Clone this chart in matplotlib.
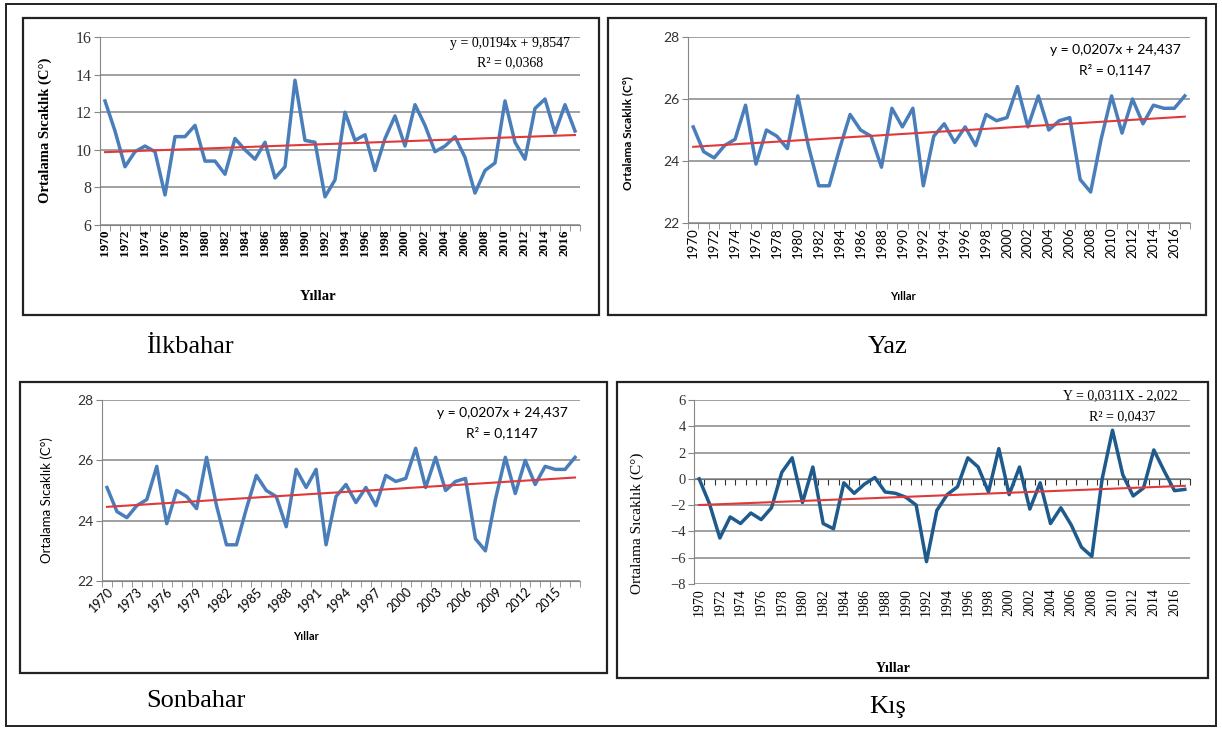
import matplotlib.pyplot as plt
import matplotlib.patches as patches
import numpy as np

# Data (1970-2017)
years = list(range(1970, 2018))
ilkbahar = [12.6, 11.0, 9.1, 9.9, 10.2, 9.9, 7.6, 10.7, 10.7, 11.3,
            9.4, 9.4, 8.7, 10.6, 10.0, 9.5, 10.4, 8.5, 9.1, 13.7,
            10.5, 10.4, 7.5, 8.4, 12.0, 10.5, 10.8, 8.9, 10.6, 11.8,
            10.2, 12.4, 11.3, 9.9, 10.2, 10.7, 9.6, 7.7, 8.9, 9.3,
            12.6, 10.4, 9.5, 12.2, 12.7, 10.9, 12.4, 11.0]
yaz = [25.1, 24.3, 24.1, 24.5, 24.7, 25.8, 23.9, 25.0, 24.8, 24.4,
       26.1, 24.5, 23.2, 23.2, 24.4, 25.5, 25.0, 24.8, 23.8, 25.7,
       25.1, 25.7, 23.2, 24.8, 25.2, 24.6, 25.1, 24.5, 25.5, 25.3,
       25.4, 26.4, 25.1, 26.1, 25.0, 25.3, 25.4, 23.4, 23.0, 24.7,
       26.1, 24.9, 26.0, 25.2, 25.8, 25.7, 25.7, 26.1]
# the source figure shows the same series for autumn
sonbahar = [25.1, 24.3, 24.1, 24.5, 24.7, 25.8, 23.9, 25.0, 24.8, 24.4,
            26.1, 24.5, 23.2, 23.2, 24.4, 25.5, 25.0, 24.8, 23.8, 25.7,
            25.1, 25.7, 23.2, 24.8, 25.2, 24.6, 25.1, 24.5, 25.5, 25.3,
            25.4, 26.4, 25.1, 26.1, 25.0, 25.3, 25.4, 23.4, 23.0, 24.7,
            26.1, 24.9, 26.0, 25.2, 25.8, 25.7, 25.7, 26.1]
kis = [0.0, -1.9, -4.5, -2.9, -3.4, -2.6, -3.1, -2.2, 0.5, 1.6,
       -1.8, 0.9, -3.4, -3.8, -0.3, -1.1, -0.4, 0.1, -1.0, -1.1,
       -1.4, -2.0, -6.3, -2.4, -1.2, -0.6, 1.6, 0.9, -1.0, 2.3,
       -1.2, 0.9, -2.3, -0.3, -3.4, -2.2, -3.5, -5.2, -5.9, 0.0,
       3.7, 0.3, -1.3, -0.7, 2.2, 0.6, -0.9, -0.8]

# trend lines as printed on the charts (x = 1..48)
ilkbahar_fit = (0.0194, 9.8547)
yaz_fit = (0.0207, 24.437)
sonbahar_fit = (0.0207, 24.437)
kis_fit = (0.0311, -2.022)

W, H = 1222, 729
fig = plt.figure(figsize=(W / 100, H / 100), dpi=100)

SERIF = 'Liberation Serif'
SANS = 'Lato'
GRID = '#868686'
BLUE = '#4a7ebb'
DARKBLUE = '#1f5a8c'
RED = '#e0393b'


def px_axes(l, t, r, b):
    return fig.add_axes([l / W, 1 - b / H, (r - l) / W, (b - t) / H])


def px_text(x, y, s, **kw):
    fig.text(x / W, 1 - y / H, s, **kw)


def px_box(l, t, r, b, lw=1.6):
    fig.add_artist(patches.Rectangle((l / W, 1 - b / H), (r - l) / W, (b - t) / H,
                                     transform=fig.transFigure, fill=False,
                                     lw=lw, ec='#222222'))


def panel(ax, values, fit, ylim, ystep, color, every, rot, font, xsize, ysize,
          xweight='normal', bottom_axis=True):
    x = np.arange(len(values))
    ax.plot(x, values, color=color, lw=2.5, zorder=3)
    slope, inter = fit
    ax.plot(x, inter + slope * (x + 1), color=RED, lw=1.5, zorder=4)
    ax.set_xlim(-0.5, len(values) - 0.5)
    ax.set_ylim(*ylim)
    ax.set_yticks(np.arange(ylim[0], ylim[1] + 0.01, ystep))
    ax.grid(axis='y', color=GRID, lw=1.1)
    ax.set_axisbelow(True)
    for s in ['top', 'right']:
        ax.spines[s].set_visible(False)
    ax.spines['left'].set_color(GRID)
    ax.spines['bottom'].set_color(GRID)
    ax.spines['bottom'].set_visible(bottom_axis)
    ax.set_xticks(x[::every], [str(years[i]) for i in x[::every]])
    if bottom_axis:
        ax.set_xticks(np.arange(-0.5, len(values)), minor=True)
    ax.tick_params(axis='x', which='major', length=0, pad=3)
    ax.tick_params(axis='x', which='minor', length=4, color=GRID)
    ax.tick_params(axis='y', length=4, color=GRID, pad=2)
    for lab in ax.get_xticklabels():
        lab.set_fontfamily(font)
        lab.set_fontsize(xsize)
        lab.set_fontweight(xweight)
        lab.set_rotation(rot)
        if rot == 45:
            lab.set_ha('right')
            lab.set_va('top')
            lab.set_rotation_mode('anchor')
        else:
            lab.set_va('top')
            lab.set_ha('center')
    for lab in ax.get_yticklabels():
        lab.set_fontfamily(font)
        lab.set_fontsize(ysize)
        lab.set_color('#333333')
    ax.patch.set_alpha(0)


# outer frame
px_box(6, 4, 1216, 726, lw=1.4)

# İlkbahar
px_box(23, 18, 599, 315)
ax1 = px_axes(100, 37, 580, 225)
panel(ax1, ilkbahar, ilkbahar_fit, (6, 16), 2, BLUE, 2, 90, SERIF, 9.5, 11.5,
      xweight='bold')
px_text(45, 130, 'Ortalama Sıcaklık (C°)', rotation=90, ha='center', va='center',
        family=SERIF, weight='bold', fontsize=10.5)
px_text(318, 297, 'Yıllar', ha='center', va='center', family=SERIF,
        weight='bold', fontsize=10.5)
px_text(510, 43, 'y = 0,0194x + 9,8547', ha='center', va='center', family=SERIF,
        fontsize=10)
px_text(510, 63, 'R² = 0,0368', ha='center', va='center', family=SERIF, fontsize=10)
px_text(190, 347, 'İlkbahar', ha='center', va='center', family=SERIF, fontsize=19)

# Yaz
px_box(608, 18, 1206, 315)
ax2 = px_axes(688, 37, 1190, 223)
panel(ax2, yaz, yaz_fit, (22, 28), 2, BLUE, 2, 90, SANS, 9.5, 10)
px_text(628, 133, 'Ortalama Sıcaklık (C°)', rotation=90, ha='center', va='center',
        family=SANS, weight='bold', fontsize=8.5)
px_text(903, 296, 'Yıllar', ha='center', va='center', family=SANS,
        weight='bold', fontsize=8)
px_text(1115, 50, 'y = 0,0207x + 24,437', ha='center', va='center', family=SANS,
        fontsize=10)
px_text(1115, 70, 'R² = 0,1147', ha='center', va='center', family=SANS, fontsize=10)
px_text(888, 347, 'Yaz', ha='center', va='center', family=SERIF, fontsize=19)

# Sonbahar
px_box(20, 382, 607, 673)
ax3 = px_axes(102, 400, 580, 581)
panel(ax3, sonbahar, sonbahar_fit, (22, 28), 2, BLUE, 3, 45, SANS, 9, 10)
px_text(47, 500, 'Ortalama Sıcaklık (C°)', rotation=90, ha='center', va='center',
        family=SANS, fontsize=9.5)
px_text(306, 636, 'Yıllar', ha='center', va='center', family=SANS,
        weight='bold', fontsize=8)
px_text(502, 413, 'y = 0,0207x + 24,437', ha='center', va='center', family=SANS,
        fontsize=10)
px_text(502, 433, 'R² = 0,1147', ha='center', va='center', family=SANS, fontsize=10)
px_text(196, 701, 'Sonbahar', ha='center', va='center', family=SERIF, fontsize=19)

# Kış
px_box(617, 382, 1208, 678)
ax4 = px_axes(694, 400, 1190, 584)
panel(ax4, kis, kis_fit, (-8, 6), 2, DARKBLUE, 2, 90, SERIF, 10, 10.5,
      bottom_axis=False)
zero = ax4.secondary_xaxis(8 / 14)
zero.set_xticks(np.arange(-0.5, len(kis)), labels=[])
zero.tick_params(length=4, color='#333333', direction='in')
for s in zero.spines.values():
    s.set_color('#333333')
px_text(637, 523, 'Ortalama Sıcaklık (C°)', rotation=90, ha='center', va='center',
        family=SERIF, fontsize=11)
px_text(893, 668, 'Yıllar', ha='center', va='center', family=SERIF,
        weight='bold', fontsize=10)
px_text(1120, 396, 'Y = 0,0311X - 2,022', ha='center', va='center', family=SERIF,
        fontsize=10)
px_text(1122, 417, 'R² = 0,0437', ha='center', va='center', family=SERIF, fontsize=10)
px_text(888, 707, 'Kış', ha='center', va='center', family=SERIF, fontsize=19)

fig.savefig('out.png', dpi=100, facecolor='white')
